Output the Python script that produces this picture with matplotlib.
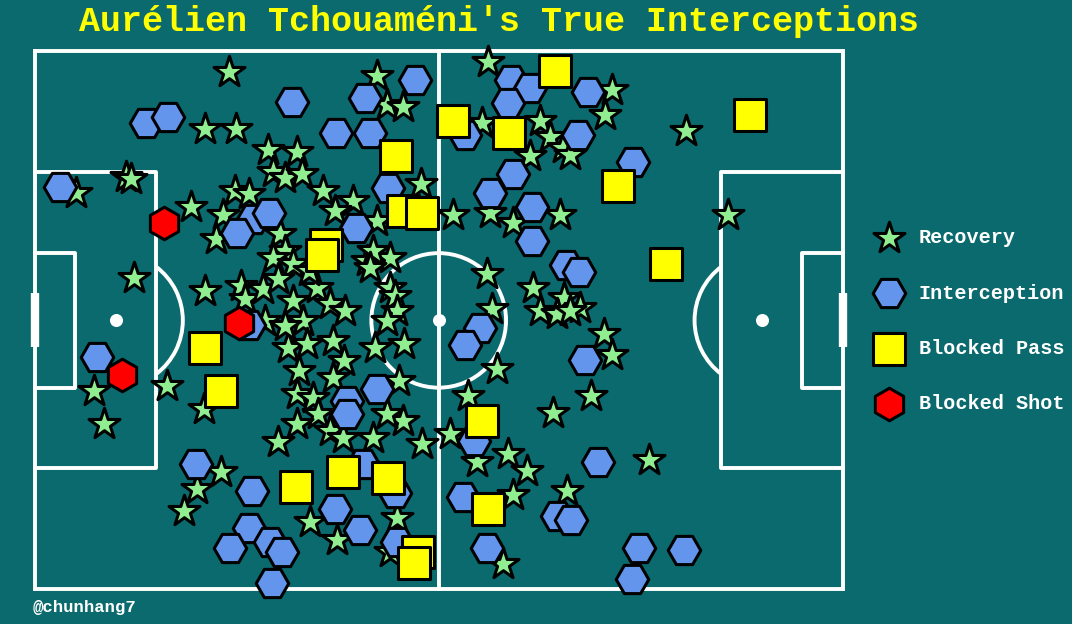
import matplotlib
matplotlib.use("Agg")
import matplotlib.pyplot as plt
from matplotlib.patches import Arc, Circle
from matplotlib.font_manager import FontProperties

# StatsBomb pitch coordinates (120 x 80, y grows downwards)
rec_x = [28.8, 50.8, 67.3, 85.7, 52.3, 54.7, 84.7, 25.3, 29.9, 34.6, 38.9, 75.0,
         76.5, 78.5, 79.5, 96.7, 66.4, 73.6, 35.4, 37.1, 39.7, 29.7, 31.9, 42.8,
         47.3, 44.6, 23.2, 27.9, 26.9, 57.4, 50.8, 62.1, 67.6, 71.0, 78.0, 103.0,
         13.5, 14.3, 6.2, 36.4, 37.1, 35.4, 38.3, 14.7, 25.3, 30.6, 31.2, 33.9,
         36.1, 38.3, 41.9, 43.8, 46.1, 49.3, 52.7, 50.2, 49.8, 52.7, 53.5, 53.8,
         67.2, 74.0, 78.6, 75.0, 77.6, 81.0, 79.5, 67.9, 39.8, 37.6, 40.4, 44.3,
         45.9, 39.2, 44.3, 50.5, 54.8, 52.3, 54.1, 68.6, 84.5, 85.7, 19.6, 8.8,
         10.3, 25.1, 64.3, 82.6, 77.0, 38.9, 41.3, 42.0, 38.9, 36.1, 43.8, 45.8,
         54.7, 50.2, 57.5, 52.3, 61.7, 65.7, 70.3, 73.1, 91.2, 27.6, 24.1, 22.1,
         71.0, 79.0, 40.9, 44.9, 53.8, 52.7, 69.5, 34.2, 37.1, 40.8]
rec_y = [3.1, 3.6, 1.6, 5.8, 8.0, 8.3, 9.5, 11.5, 11.5, 14.6, 14.9, 10.3,
         12.8, 14.3, 15.4, 11.9, 10.6, 15.5, 18.0, 18.8, 18.2, 20.7, 21.2, 20.7,
         22.2, 23.7, 23.2, 24.4, 27.9, 19.7, 25.2, 24.4, 24.0, 25.5, 24.4, 24.4,
         18.7, 19.0, 21.0, 27.1, 29.7, 30.7, 31.6, 33.7, 35.6, 34.9, 36.8, 35.3,
         33.8, 37.1, 35.2, 37.6, 38.6, 31.1, 30.7, 29.7, 32.2, 35.2, 36.4, 38.6,
         33.1, 35.2, 36.7, 38.6, 39.0, 38.2, 38.6, 38.3, 40.1, 44.1, 43.5, 43.1,
         46.1, 47.5, 48.6, 44.1, 43.5, 40.1, 49.0, 47.2, 42.0, 45.2, 49.8, 50.5,
         55.4, 53.2, 51.3, 51.3, 53.8, 51.0, 51.6, 53.9, 55.4, 58.1, 56.5, 57.5,
         55.0, 57.5, 58.4, 53.9, 56.9, 61.0, 59.9, 62.4, 60.7, 62.6, 65.0, 68.4,
         65.9, 65.3, 69.9, 72.6, 69.4, 74.4, 76.2, 40.1, 40.8, 32.6]

int_x = [3.7, 16.6, 19.8, 38.2, 56.5, 49.0, 44.7, 49.8, 52.4, 47.7, 70.7, 73.6,
         70.3, 63.9, 82.2, 80.7, 88.9, 71.0, 67.6, 73.8, 73.8, 78.9, 80.8, 32.4,
         34.8, 30.0, 66.1, 63.9, 81.7, 9.2, 31.9, 50.8, 46.4, 46.4, 48.7, 23.9,
         32.2, 31.9, 29.0, 34.9, 36.8, 35.2, 44.6, 48.3, 53.8, 53.5, 63.6, 67.2,
         65.2, 83.7, 77.6, 79.6, 89.7, 96.4, 88.7]
int_y = [20.1, 10.7, 9.7, 7.6, 4.2, 7.0, 12.1, 12.2, 20.3, 26.2, 4.2, 5.5,
         7.7, 12.4, 6.1, 12.5, 16.4, 18.3, 21.0, 23.2, 28.2, 31.7, 32.8, 24.9,
         24.1, 27.0, 41.1, 43.7, 45.9, 45.5, 40.7, 50.2, 52.0, 53.9, 61.4, 61.4,
         65.4, 70.9, 73.9, 72.9, 74.4, 79.1, 68.0, 71.1, 72.9, 65.7, 66.2, 73.9,
         58.0, 61.0, 69.1, 69.6, 73.9, 74.2, 78.4]

bp_x = [77.3, 106.2, 62.1, 70.4, 53.6, 86.6, 54.7, 57.5, 43.2, 42.6, 93.8, 25.3,
        27.6, 66.4, 45.8, 52.4, 38.8, 67.3, 57.0, 56.3]
bp_y = [3.0, 9.5, 10.3, 12.2, 15.6, 20.0, 23.7, 24.1, 28.8, 30.3, 31.6, 44.1,
        50.5, 55.0, 62.6, 63.5, 64.8, 68.0, 74.5, 76.0]

bs_x = [19.2, 30.3, 12.9]
bs_y = [25.5, 40.4, 48.1]

BG = '#0b6a6e'
LINE = 'white'
MONO = 'Liberation Mono'


def draw_pitch(ax):
    kw = dict(color=LINE, lw=2.8, zorder=1, clip_on=False)
    # outline + halfway line
    ax.plot([0, 120, 120, 0, 0], [0, 0, 80, 80, 0], solid_joinstyle='miter', **kw)
    ax.plot([60, 60], [0, 80], **kw)
    # penalty areas and six yard boxes
    ax.plot([0, 18, 18, 0], [18, 18, 62, 62], **kw)
    ax.plot([120, 102, 102, 120], [18, 18, 62, 62], **kw)
    ax.plot([0, 6, 6, 0], [30, 30, 50, 50], **kw)
    ax.plot([120, 114, 114, 120], [30, 30, 50, 50], **kw)
    # goals
    ax.plot([0, 0], [36, 44], color=LINE, lw=6, zorder=1, clip_on=False,
            solid_capstyle='butt')
    ax.plot([120, 120], [36, 44], color=LINE, lw=6, zorder=1, clip_on=False,
            solid_capstyle='butt')
    # centre circle, spots, D arcs
    ax.add_patch(Circle((60, 40), 10, fill=False, ec=LINE, lw=2.8, zorder=1))
    ax.scatter([12, 60, 108], [40, 40, 40], s=70, color=LINE, zorder=1)
    ax.add_patch(Arc((12, 40), 20, 20, theta1=-53.13, theta2=53.13,
                     color=LINE, lw=2.8, zorder=1))
    ax.add_patch(Arc((108, 40), 20, 20, theta1=126.87, theta2=233.13,
                     color=LINE, lw=2.8, zorder=1))


fig = plt.figure(figsize=(10.72, 6.24), dpi=100, facecolor=BG)
ax = fig.add_axes([0.03237, 0.05529, 0.75373, 0.8625])
ax.set_facecolor(BG)
ax.set_xlim(0, 120)
ax.set_ylim(80, 0)
ax.axis('off')

draw_pitch(ax)

mk = dict(s=550, edgecolors='black', linewidths=2.2, clip_on=False)
ax.scatter(rec_x, rec_y, marker='*', color='#90ee90', zorder=3, label='Recovery', **mk)
ax.scatter(int_x, int_y, marker='H', color='#6495ed', zorder=4, label='Interception', **mk)
ax.scatter(bp_x, bp_y, marker='s', color='yellow', zorder=5, label='Blocked Pass', **mk)
ax.scatter(bs_x, bs_y, marker='h', color='red', zorder=6, label='Blocked Shot', **mk)

leg = ax.legend(loc='upper left', bbox_to_anchor=(0.8007, 0.650),
                bbox_transform=fig.transFigure, frameon=False,
                prop=FontProperties(family=MONO, weight='bold', size=14.5),
                labelcolor='white', labelspacing=1.8, handletextpad=0.5,
                handlelength=2.0, borderpad=0, scatterpoints=1)

fig.text(0.4655, 0.9503, "Aurélien Tchouaméni's True Interceptions",
         ha='center', va='baseline', color='yellow', fontsize=25.2,
         fontweight='bold', family=MONO)
fig.text(0.0308, 0.0192, '@chunhang7', ha='left', va='baseline', color='white',
         fontsize=12.5, fontweight='bold', family=MONO)

fig.savefig('out.png', dpi=100, facecolor=BG)
